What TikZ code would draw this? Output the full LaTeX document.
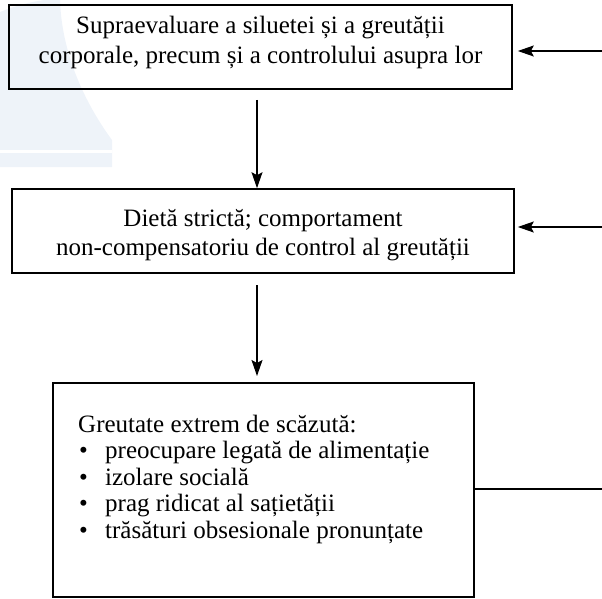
\documentclass[tikz,border=0pt]{standalone}
\usepackage{fontspec}
\setmainfont{Liberation Serif}
\usetikzlibrary{arrows.meta}
\definecolor{wmark}{RGB}{238,243,249}
\tikzset{
  box/.style={draw=black, line width=1.6pt, inner sep=0pt},
  txt/.style={font=\fontsize{25}{30}\selectfont, align=center, inner sep=0pt},
  listtxt/.style={font=\fontsize{25}{26.5}\selectfont, align=left, inner sep=0pt},
  flow/.style={line width=1.3pt, -{Stealth[length=16pt,width=11pt,inset=3pt]}},
  feed/.style={line width=1.3pt},
}
\newcommand{\bul}{\makebox[27pt][l]{\hspace{1pt}•}}
\begin{document}
\begin{tikzpicture}[x=1pt,y=-1pt]
\useasboundingbox (0,0) rectangle (602,599);
% faint emblem behind the upper left corner
\fill[wmark] (0,12) .. controls (20,4) and (32,2) .. (44,0) -- (60,0)
  .. controls (62,60) and (90,110) .. (112,140) -- (112,167) -- (0,167) -- cycle;
\fill[white] (0,150) rectangle (112,153);
% boxes
\node[box, minimum width=503pt, minimum height=84pt] (b1) at (260.5,47) {};
\node[box, minimum width=502pt, minimum height=84pt] (b2) at (263,231) {};
\node[box, minimum width=421pt, minimum height=214pt] (b3) at (263.5,490) {};
% texts
\node[txt] (t1) at (260.5,42) {Supraevaluare a siluetei și a greutății\\corporale, precum și a controlului asupra lor};
\node[txt, font=\fontsize{25}{29}\selectfont] (t2) at (263,235) {Dietă strictă; comportament\\non-compensatoriu de control al greutății};
\node[listtxt, anchor=north west] (t3) at (78,414.5) {Greutate extrem de scăzută:\\
  \bul preocupare legată de alimentație\\
  \bul izolare socială\\
  \bul prag ridicat al sațietății\\
  \bul trăsături obsesionale pronunțate};
% connector ends
\coordinate (r1) at (602,51);
\coordinate (r2) at (602,227);
\coordinate (r3) at (602,489);
\coordinate (a1) at (257,100);
\coordinate (a2) at (257,285);
\coordinate (e2) at (257,376);
% connectors
\draw[flow] (a1) -- (a1 |- b2.north);
\draw[flow] (a2) -- (e2);
\draw[flow] (r1) -- ([xshift=5pt]b1.east |- r1);
\draw[flow] (r2) -- ([xshift=3pt]b2.east |- r2);
\draw[feed] (b3.east |- r3) -- (r3);
\end{tikzpicture}
\end{document}
